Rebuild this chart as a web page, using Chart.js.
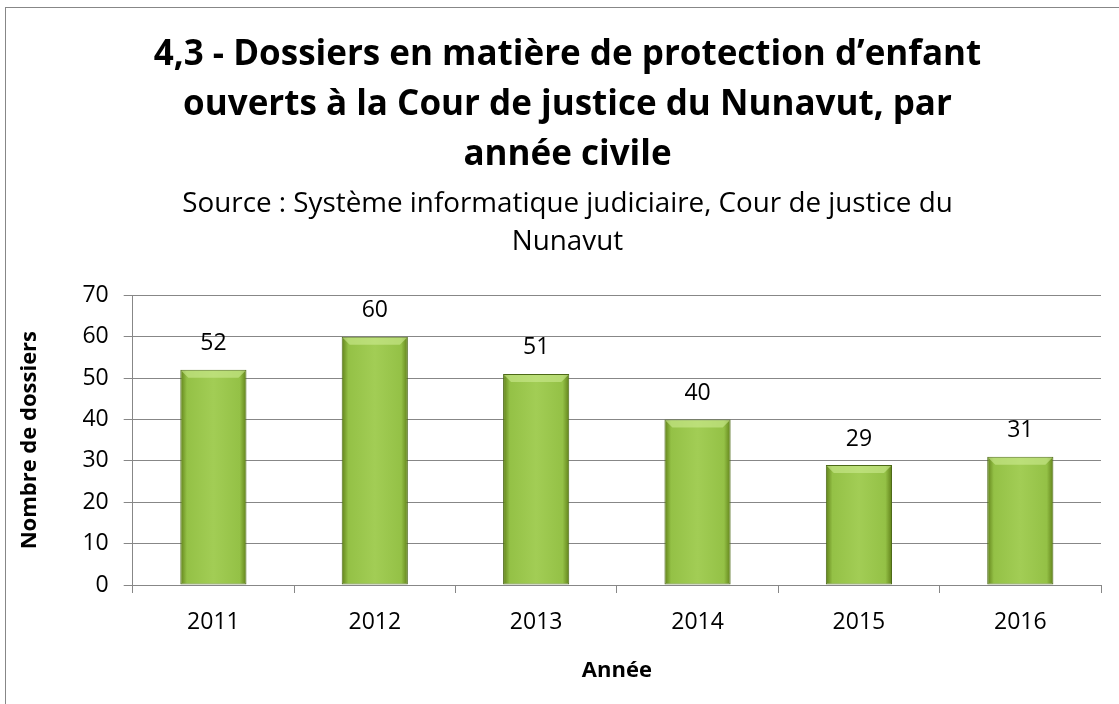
<!DOCTYPE html>
<html lang="fr">
<head>
<meta charset="utf-8">
<title>Dossiers en matière de protection d’enfant</title>
<script src="https://cdn.jsdelivr.net/npm/chart.js@4.4.1/dist/chart.umd.min.js"></script>
<style>
  html, body { margin: 0; padding: 0; background: #fff; overflow: hidden; }
  #frame { position: absolute; left: 5px; top: 7px; width: 1130px; height: 720px; border: 1px solid #878787; }
  #wrap { position: absolute; left: 0; top: 0; width: 1119px; height: 704px; }
</style>
</head>
<body>
<div id="frame"></div>
<div id="wrap"><canvas id="chart"></canvas></div>
<script>
// données
const years = ['2011', '2012', '2013', '2014', '2015', '2016'];
const dossiers = [52, 60, 51, 40, 29, 31];
const yTicks = [0, 10, 20, 30, 40, 50, 60, 70];

const titleLines = [
  '4,3 - Dossiers en matière de protection d’enfant',
  'ouverts à la Cour de justice du Nunavut, par',
  'année civile'
];
const subtitleLines = [
  'Source : Système informatique judiciaire, Cour de justice du',
  'Nunavut'
];

const FONT = '"Open Sans", "Noto Sans", sans-serif';
const GRID = '#878787';

// dégradé horizontal de chaque barre (effet biseau)
function barFill(ctx) {
  const chart = ctx.chart;
  const x = chart.scales && chart.scales.x;
  if (!x) return '#9bc64b';
  const w = (x.width / years.length) * 0.4;
  const cx = x.getPixelForValue(ctx.dataIndex);
  if (!Number.isFinite(cx) || !Number.isFinite(w) || w <= 0) return '#9bc64b';
  const g = chart.ctx.createLinearGradient(cx - w / 2, 0, cx + w / 2, 0);
  g.addColorStop(0, '#67891f');
  g.addColorStop(0.09, '#94c146');
  g.addColorStop(0.5, '#a2cd55');
  g.addColorStop(0.91, '#94c146');
  g.addColorStop(1, '#67891f');
  return g;
}

// le titre est centré sur le cadre, un peu à droite du canvas
const shiftTitles = {
  id: 'shiftTitles',
  afterLayout(chart) {
    chart.boxes.forEach(b => {
      if (b.options && 'text' in b.options && b.position === 'top') {
        b.left += 12;
        b.right += 12;
      }
    });
  }
};

// biseau clair en haut + valeurs au-dessus des barres
const barExtras = {
  id: 'barExtras',
  afterDatasetsDraw(chart) {
    const ctx = chart.ctx;
    const meta = chart.getDatasetMeta(0);
    ctx.save();
    meta.data.forEach((bar, i) => {
      const left = bar.x - bar.width / 2;
      const right = bar.x + bar.width / 2;
      const b = 8;
      ctx.fillStyle = 'rgba(205, 235, 145, 0.6)';
      ctx.beginPath();
      ctx.moveTo(left + 1, bar.y + 1);
      ctx.lineTo(right - 1, bar.y + 1);
      ctx.lineTo(right - b, bar.y + b);
      ctx.lineTo(left + b, bar.y + b);
      ctx.closePath();
      ctx.fill();

      ctx.fillStyle = '#000';
      ctx.font = '23px ' + FONT;
      ctx.textAlign = 'center';
      ctx.textBaseline = 'middle';
      ctx.fillText(String(dossiers[i]), bar.x, bar.y - 26);
    });
    ctx.restore();
  }
};

new Chart(document.getElementById('chart'), {
  type: 'bar',
  data: {
    labels: years,
    datasets: [{
      data: dossiers,
      backgroundColor: barFill,
      borderColor: '#4d6a18',
      borderWidth: 1,
      borderSkipped: false,
      categoryPercentage: 1,
      barPercentage: 0.41
    }]
  },
  options: {
    responsive: true,
    maintainAspectRatio: false,
    animation: false,
    layout: { padding: { left: 10, right: 18, top: 0, bottom: 16 } },
    plugins: {
      legend: { display: false },
      tooltip: { enabled: false },
      title: {
        display: true,
        text: titleLines,
        color: '#000',
        font: { family: FONT, size: 35, weight: 'bold', lineHeight: 1.43 },
        padding: { top: 30, bottom: 5 }
      },
      subtitle: {
        display: true,
        text: subtitleLines,
        color: '#000',
        font: { family: FONT, size: 27.8, lineHeight: 1.37 },
        padding: { top: 0, bottom: 34 }
      }
    },
    scales: {
      x: {
        offset: true,
        border: { display: true, color: GRID, width: 1 },
        grid: { offset: true, drawOnChartArea: false, drawTicks: true, tickLength: 8, color: GRID },
        ticks: { color: '#000', font: { family: FONT, size: 23 }, padding: 16 },
        title: {
          display: true,
          text: 'Année',
          color: '#000',
          font: { family: FONT, size: 22, weight: 'bold' },
          padding: { top: 5, bottom: 4 }
        }
      },
      y: {
        min: 0,
        max: 70,
        afterBuildTicks(scale) { scale.ticks = yTicks.map(v => ({ value: v })); },
        border: { display: true, color: GRID, width: 1 },
        grid: { color: GRID, tickLength: 9 },
        ticks: { color: '#000', font: { family: FONT, size: 23 }, padding: 15 },
        title: {
          display: true,
          text: 'Nombre de dossiers',
          color: '#000',
          font: { family: FONT, size: 22, weight: 'bold' },
          padding: { top: 7, bottom: 24 }
        }
      }
    }
  },
  plugins: [shiftTitles, barExtras]
});
</script>
</body>
</html>
